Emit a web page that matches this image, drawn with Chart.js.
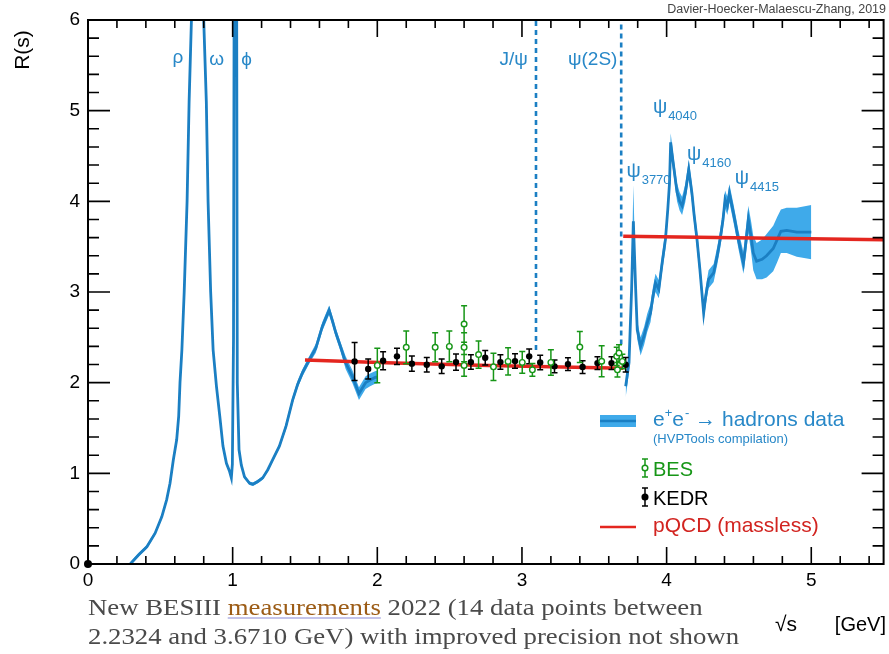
<!DOCTYPE html>
<html>
<head>
<meta charset="utf-8">
<script src="https://cdn.jsdelivr.net/npm/chart.js@4.4.1/dist/chart.umd.min.js"></script>
<style>
  html, body { margin: 0; padding: 0; background: #fff; }
  #wrap { position: relative; width: 889px; height: 654px; overflow: hidden; }
  #note {
    position: absolute; left: 88px; top: 593px; white-space: nowrap;
    font-family: "Liberation Serif", "Times New Roman", serif;
    font-size: 24px; line-height: 29px; color: #4a4a4a;
    transform: scaleX(1.115); transform-origin: left top;
  }
  #note span { color: #9c5c16; text-decoration: underline; text-decoration-color: #c4c4ea; }
</style>
</head>
<body>
<div id="wrap">
  <canvas id="rChart" width="889" height="654"></canvas>
  <div id="note">New BESIII <span>measurements</span> 2022 (14 data points between<br>2.2324 and 3.6710 GeV) with improved precision not shown</div>
</div>
<script>
// --- e+e- -> hadrons compilation, below 2 GeV (sqrt(s) in GeV, R) ---
const lowE = [0.292,0.349,0.407,0.464,0.51,0.544,0.567,0.59,0.613,0.627,0.636,0.649,0.665,0.685,0.699,0.715,0.74,0.775,0.782,0.79,
  0.80,0.818,0.83,0.848,0.865,0.888,0.911,0.933,0.957,0.979,0.991,0.998,1.006,1.012,1.019,1.026,1.032,1.044,1.06,1.082,
  1.117,1.14,1.174,1.208,1.243,1.277,1.323,1.369,1.415,1.449,1.483,1.529,1.575,1.62,1.667,1.69,1.713,1.745,1.781,1.827,
  1.873,1.919,1.95,1.988,2.0];
const lowR = [0,0.10,0.19,0.34,0.52,0.71,0.89,1.15,1.37,1.63,2.0,2.36,3.0,4.0,5.1,6.0,8.0,9.5,11.0,8.0,
  6.0,5.1,4.0,3.0,2.36,1.96,1.63,1.30,1.11,1.02,0.95,1.1,2.5,8.0,40,8.0,2.0,1.26,1.09,0.96,
  0.89,0.88,0.91,0.95,1.04,1.15,1.30,1.52,1.81,1.98,2.11,2.25,2.38,2.62,2.80,2.68,2.55,2.40,2.22,2.07,
  1.88,2.0,2.03,2.06,2.06];
const lowErr = [0.02,0.02,0.02,0.02,0.02,0.02,0.02,0.02,0.02,0.02,0.02,0.02,0.02,0.02,0.02,0.02,0.02,0.02,0.02,0.02,
  0.02,0.02,0.02,0.02,0.02,0.02,0.02,0.02,0.02,0.02,0.02,0.02,0.02,0.02,0.02,0.02,0.02,0.02,0.02,0.02,
  0.02,0.02,0.02,0.02,0.02,0.02,0.02,0.04,0.04,0.04,0.04,0.04,0.05,0.05,0.05,0.05,0.05,0.05,0.07,0.07,
  0.07,0.07,0.07,0.07,0.07];

// --- charmonium region ---
const charmE = [3.717,3.74,3.758,3.77,3.786,3.797,3.82,3.845,3.866,3.889,3.905,3.923,3.946,3.969,3.992,4.008,4.02,4.028,4.045,4.072,
  4.09,4.107,4.129,4.153,4.175,4.19,4.21,4.23,4.244,4.256,4.27,4.29,4.325,4.35,4.37,4.39,4.404,4.42,4.434,4.462,
  4.48,4.496,4.531,4.548,4.565,4.585,4.599,4.622,4.66,4.691,4.737,4.765,4.79,4.83,4.9,5.0];
const charmR = [1.96,2.22,3.03,3.78,3.03,2.58,2.40,2.52,2.66,2.77,2.95,3.10,3.03,3.32,3.58,3.91,4.2,4.65,4.43,4.10,
  4.0,3.95,4.09,4.35,4.09,3.85,3.58,3.25,2.99,2.77,2.95,3.14,3.21,3.40,3.58,3.80,4.02,3.95,4.09,3.87,
  3.72,3.58,3.32,3.55,3.80,3.60,3.43,3.34,3.36,3.40,3.48,3.58,3.67,3.68,3.66,3.66];
const charmErr = [0.12,0.1,0.15,0.4,0.1,0.1,0.1,0.1,0.1,0.1,0.1,0.1,0.1,0.1,0.1,0.1,0.1,0.1,0.1,0.1,
  0.1,0.1,0.1,0.1,0.1,0.1,0.1,0.1,0.1,0.1,0.1,0.1,0.1,0.1,0.1,0.1,0.1,0.1,0.1,0.1,
  0.1,0.1,0.12,0.15,0.15,0.17,0.19,0.2,0.22,0.24,0.25,0.25,0.24,0.25,0.27,0.3];

// --- BES and KEDR points ---
const besE = [2.0,2.2,2.4,2.498,2.6,2.6,2.6,2.70,2.803,2.904,3.002,3.072,3.20,3.40,3.551,3.655,3.66,3.671,3.694];
const besR = [2.19,2.39,2.39,2.40,2.647,2.39,2.19,2.31,2.175,2.234,2.223,2.142,2.223,2.393,2.236,2.29,2.142,2.327,2.234];
const besErr = [0.19,0.18,0.16,0.17,0.20,0.16,0.12,0.15,0.15,0.15,0.12,0.07,0.14,0.17,0.17,0.10,0.08,0.09,0.08];
const kedrE = [1.843,1.937,2.04,2.136,2.239,2.342,2.445,2.544,2.647,2.746,2.851,2.952,3.05,3.126,3.225,3.318,3.419,3.522,3.619,3.717];
const kedrR = [2.234,2.15,2.242,2.29,2.21,2.198,2.18,2.227,2.227,2.275,2.227,2.238,2.29,2.223,2.18,2.205,2.172,2.216,2.216,2.198];
const kedrErr = [0.21,0.11,0.10,0.09,0.085,0.08,0.08,0.09,0.08,0.08,0.08,0.08,0.08,0.08,0.07,0.07,0.07,0.07,0.07,0.08];

// --- pQCD (massless) ---
const pqcdLowE = [1.5,2.06,2.77,3.70];
const pqcdLowR = [2.25,2.22,2.19,2.16];
const pqcdHighE = [3.70,5.5];
const pqcdHighR = [3.615,3.575];

// --- narrow resonances drawn as dashed lines ---
const narrowE = [3.097, 3.686];
const narrowBottom = [2.36, 2.42];

const xTicks = [0,1,2,3,4,5];
const yTicks = [0,1,2,3,4,5,6];

// couleurs
const BLUE = '#1b7fc3', BAND = '#3faaea', LBLUE = '#2888c8', RED = '#e4261f', GREEN = '#179617';
const SANS = '"Liberation Sans", Arial, sans-serif';

const pts = (xs, ys) => xs.map((x, i) => ({ x, y: ys[i] }));
const shifted = (xs, ys, es, s) => xs.map((x, i) => ({ x, y: ys[i] + s * es[i] }));

function lineSet(data, color, width, order, extra) {
  return Object.assign({ data, showLine: true, borderColor: color, borderWidth: width,
    pointRadius: 0, pointHoverRadius: 0, fill: false, tension: 0, clip: 0, order }, extra || {});
}

const datasets = [
  { data: pts(besE, besR), pointRadius: 2.8, pointBorderWidth: 1.4, pointBackgroundColor: '#fff',
    pointBorderColor: GREEN, order: 0 },
  { data: pts(kedrE, kedrR), pointRadius: 3.2, pointBorderWidth: 0, pointBackgroundColor: '#000', order: 1 },
  { data: [{ x: 0, y: 0 }], pointRadius: 4, pointBorderWidth: 0, pointBackgroundColor: '#000', clip: false, order: 1 },
  lineSet(pts(pqcdLowE, pqcdLowR), RED, 3.5, 2),
  lineSet(pts(pqcdHighE, pqcdHighR), RED, 3.5, 2),
  lineSet(pts(lowE, lowR), BLUE, 2.8, 3),
  lineSet(pts(charmE, charmR), BLUE, 2.8, 3),
  lineSet(shifted(lowE, lowR, lowErr, 1), BAND, 0, 4, { fill: '+1', backgroundColor: BAND }),
  lineSet(shifted(lowE, lowR, lowErr, -1), BAND, 0, 4),
  lineSet(shifted(charmE, charmR, charmErr, 1), BAND, 0, 4, { fill: '+1', backgroundColor: BAND }),
  lineSet(shifted(charmE, charmR, charmErr, -1), BAND, 0, 4),
  lineSet([{ x: narrowE[0], y: narrowBottom[0] }, { x: narrowE[0], y: 6 }], BLUE, 2.6, 5, { borderDash: [5, 4] }),
  lineSet([{ x: narrowE[1], y: narrowBottom[1] }, { x: narrowE[1], y: 6 }], BLUE, 2.6, 5, { borderDash: [5, 4] })
];

const errSets = {
  0: { xs: besE, ys: besR, es: besErr, color: GREEN },
  1: { xs: kedrE, ys: kedrR, es: kedrErr, color: '#000' }
};

// barres d'erreur, juste sous les marqueurs
const errorBars = {
  id: 'errorBars',
  beforeDatasetDraw(chart, args) {
    const set = errSets[args.index];
    if (!set) return;
    const { ctx, scales: { x, y } } = chart;
    ctx.save();
    ctx.strokeStyle = set.color;
    ctx.lineWidth = 1.5;
    ctx.beginPath();
    set.xs.forEach((v, i) => {
      const px = x.getPixelForValue(v);
      const top = y.getPixelForValue(set.ys[i] + set.es[i]);
      const bot = y.getPixelForValue(set.ys[i] - set.es[i]);
      ctx.moveTo(px, top); ctx.lineTo(px, bot);
      ctx.moveTo(px - 3, top); ctx.lineTo(px + 3, top);
      ctx.moveTo(px - 3, bot); ctx.lineTo(px + 3, bot);
    });
    ctx.stroke();
    ctx.restore();
  }
};

// cadre façon ROOT avec graduations vers l'intérieur
const frameTicks = {
  id: 'frameTicks',
  afterDatasetsDraw(chart) {
    const { ctx, chartArea: a, scales: { x, y } } = chart;
    ctx.save();
    ctx.strokeStyle = '#000';
    ctx.lineWidth = 2;
    ctx.strokeRect(a.left, a.top, a.right - a.left, a.bottom - a.top);
    ctx.lineWidth = 1.6;
    ctx.beginPath();
    for (let i = 0; i <= 27; i++) {
      const px = x.getPixelForValue(i / 5), len = i % 5 === 0 ? 17 : 8;
      ctx.moveTo(px, a.bottom); ctx.lineTo(px, a.bottom - len);
      ctx.moveTo(px, a.top); ctx.lineTo(px, a.top + len);
    }
    for (let i = 0; i <= 30; i++) {
      const py = y.getPixelForValue(i / 5), len = i % 5 === 0 ? 22 : 11;
      ctx.moveTo(a.left, py); ctx.lineTo(a.left + len, py);
      ctx.moveTo(a.right, py); ctx.lineTo(a.right - len, py);
    }
    ctx.stroke();
    ctx.restore();
  }
};

// étiquettes des résonances
const resLabels = [
  { t: 'ρ', x: 0.622, y: 5.53 },
  { t: 'ω', x: 0.89, y: 5.50 },
  { t: 'ϕ', x: 1.096, y: 5.50 }
];
const psiLabels = [
  { sub: '3770', x: 3.722, y: 4.27 },
  { sub: '4040', x: 3.905, y: 4.97 },
  { sub: '4160', x: 4.141, y: 4.46 },
  { sub: '4415', x: 4.471, y: 4.19 }
];

function put(ctx, s, x, y, size, color, align) {
  ctx.font = size + 'px ' + SANS;
  ctx.fillStyle = color;
  ctx.textAlign = align || 'left';
  ctx.fillText(s, x, y);
  return ctx.measureText(s).width;
}

const decor = {
  id: 'decor',
  afterDraw(chart) {
    const { ctx, scales: { x, y } } = chart;
    ctx.save();
    ctx.textBaseline = 'alphabetic';

    resLabels.forEach(l => put(ctx, l.t, x.getPixelForValue(l.x), y.getPixelForValue(l.y), 19, LBLUE, 'center'));
    put(ctx, 'J/ψ', x.getPixelForValue(3.04), y.getPixelForValue(5.5), 19, LBLUE, 'right');
    put(ctx, 'ψ(2S)', x.getPixelForValue(3.66), y.getPixelForValue(5.5), 19, LBLUE, 'right');
    psiLabels.forEach(l => {
      const px = x.getPixelForValue(l.x), py = y.getPixelForValue(l.y);
      const w = put(ctx, 'ψ', px, py, 20, LBLUE);
      put(ctx, l.sub, px + w + 1, py + 7, 13, LBLUE);
    });

    // titres des axes
    put(ctx, 'Davier-Hoecker-Malaescu-Zhang, 2019', 886, 13, 12.5, '#444', 'right');
    ctx.save();
    ctx.translate(29, 50);
    ctx.rotate(-Math.PI / 2);
    put(ctx, 'R(s)', 0, 0, 21, '#000', 'center');
    ctx.restore();
    put(ctx, '√s', 775, 631, 21, '#000');
    put(ctx, '[GeV]', 886, 631, 20, '#000', 'right');

    // légende
    ctx.fillStyle = BAND;
    ctx.fillRect(600, 415, 36, 12);
    ctx.strokeStyle = BLUE; ctx.lineWidth = 2.5;
    ctx.beginPath(); ctx.moveTo(600, 421); ctx.lineTo(636, 421); ctx.stroke();
    let cx = 653;
    cx += put(ctx, 'e', cx, 426, 21, LBLUE);
    cx += put(ctx, '+', cx, 417, 13, LBLUE);
    cx += put(ctx, 'e', cx, 426, 21, LBLUE);
    cx += put(ctx, '-', cx + 1, 417, 13, LBLUE) + 1;
    put(ctx, ' → hadrons data', cx, 426, 21, LBLUE);
    put(ctx, '(HVPTools compilation)', 653, 443, 13, LBLUE);

    ctx.lineWidth = 1.5;
    [[468, GREEN, '#fff'], [497, '#000', '#000']].forEach(([cy, col, fillc]) => {
      ctx.strokeStyle = col;
      ctx.beginPath();
      ctx.moveTo(645, cy - 9); ctx.lineTo(645, cy + 9);
      ctx.moveTo(642, cy - 9); ctx.lineTo(648, cy - 9);
      ctx.moveTo(642, cy + 9); ctx.lineTo(648, cy + 9);
      ctx.stroke();
      ctx.beginPath(); ctx.arc(645, cy, 2.8, 0, Math.PI * 2);
      ctx.fillStyle = fillc; ctx.fill(); ctx.stroke();
    });
    put(ctx, 'BES', 653, 476, 20, GREEN);
    put(ctx, 'KEDR', 653, 505, 20, '#000');
    ctx.strokeStyle = RED; ctx.lineWidth = 2.5;
    ctx.beginPath(); ctx.moveTo(600, 527); ctx.lineTo(636, 527); ctx.stroke();
    put(ctx, 'pQCD (massless)', 653, 532, 21, '#d22420');
    ctx.restore();
  }
};

new Chart(document.getElementById('rChart'), {
  type: 'scatter',
  data: { datasets },
  options: {
    responsive: false,
    animation: false,
    layout: { padding: { top: 20, right: 1, left: 0, bottom: 0 } },
    plugins: { legend: { display: false }, tooltip: { enabled: false } },
    scales: {
      x: {
        type: 'linear', min: 0, max: 5.5,
        afterBuildTicks: s => { s.ticks = xTicks.map(v => ({ value: v })); },
        afterFit: s => { s.height = 90; },
        grid: { display: false, drawTicks: false },
        border: { display: false },
        ticks: { padding: 5, color: '#000', font: { family: SANS, size: 19 }, maxRotation: 0 }
      },
      y: {
        type: 'linear', min: 0, max: 6,
        afterBuildTicks: s => { s.ticks = yTicks.map(v => ({ value: v })); },
        afterFit: s => { s.width = 88; },
        grid: { display: false, drawTicks: false },
        border: { display: false },
        ticks: { padding: 8, color: '#000', font: { family: SANS, size: 19 } }
      }
    }
  },
  plugins: [errorBars, frameTicks, decor]
});
</script>
</body>
</html>
